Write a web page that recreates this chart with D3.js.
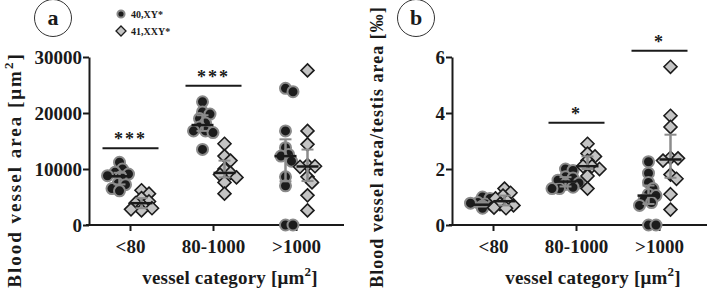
<!DOCTYPE html>
<html>
<head>
<meta charset="utf-8">
<script src="https://cdn.jsdelivr.net/npm/d3@7"></script>
<style>
  body { margin: 0; background: #fff; }
  text { font-family: "Liberation Serif", Tinos, "Times New Roman", Times, serif; font-weight: bold; fill: #1a1a1a; }
</style>
</head>
<body>
<svg width="708" height="293"></svg>
<script>
// categories and groups
var categories = ["<80", "80-1000", ">1000"];
var groups = ["40,XY*", "41,XXY*"];

// panel a: blood vessel area [µm²]
var areaXY = [
  [11200, 10000, 9400, 9100, 8800, 8600, 7400, 7200, 6500, 6100],
  [22000, 20200, 19800, 19000, 18200, 17500, 16800, 16500, 16800, 13500],
  [24400, 23800, 16800, 13800, 12600, 12300, 11400, 8600, 7000, 0, 0]
];
var areaXXY = [
  [6200, 5600, 4800, 4200, 3900, 3400, 3000, 2600, 2800],
  [14500, 12300, 11500, 10000, 9300, 9000, 8500, 7600, 5600],
  [27600, 16800, 14400, 10700, 10400, 10500, 8600, 7600, 5300, 2600]
];

// panel b: blood vessel area / testis area [‰]
var ratioXY = [
  [1.0, 0.95, 0.8, 0.78, 0.75, 0.7, 0.68, 0.65, 0.62, 0.6],
  [2.0, 1.95, 1.72, 1.68, 1.6, 1.5, 1.45, 1.35, 1.3, 1.3],
  [2.26, 1.85, 1.52, 1.3, 1.1, 1.05, 0.9, 0.8, 0.7, 0, 0]
];
var ratioXXY = [
  [1.3, 1.15, 1.05, 0.95, 0.85, 0.75, 0.7, 0.62, 0.6],
  [2.9, 2.55, 2.45, 2.3, 2.1, 2.1, 2.0, 1.75, 1.3],
  [5.65, 3.9, 3.5, 2.4, 2.38, 2.3, 1.8, 1.65, 1.1, 0.55]
];

var ticksA = [0, 10000, 20000, 30000];
var ticksB = [0, 2, 4, 6];
var sigA = ["***", "***", ""];
var sigB = ["", "*", "*"];

var svg = d3.select("svg");

// simple dodge so points of equal height sit side by side
function swarm(vals, y, gap) {
  var placed = [];
  var order = vals.map(function (v, i) { return i; })
    .sort(function (a, b) { return vals[b] - vals[a]; });
  var out = new Array(vals.length);
  order.forEach(function (i) {
    var py = y(vals[i]);
    var cands = [0];
    for (var k = 1; k < 12; k++) { cands.push(k * 1.5, -k * 1.5); }
    var best = cands.find(function (dx) {
      return placed.every(function (p) {
        var ddx = p.x - dx, ddy = p.y - py;
        return ddx * ddx + ddy * ddy >= gap * gap;
      });
    });
    if (best === undefined) best = 0;
    placed.push({ x: best, y: py });
    out[i] = best;
  });
  return out;
}

function panel(opt) {
  var g = svg.append("g");
  var x = d3.scaleBand().domain(categories).range([opt.x0, opt.x0 + 249]);
  var sub = d3.scaleBand().domain(groups).range([-22, 22]);
  var y = d3.scaleLinear().domain([0, opt.max]).range([225, 57]);

  // axes
  g.append("g")
    .attr("transform", "translate(" + opt.x0 + ",0)")
    .call(d3.axisLeft(y).tickValues(opt.ticks).tickFormat(d3.format("d"))
      .tickSize(6).tickPadding(1).tickSizeOuter(0))
    .call(function (a) {
      a.attr("font-family", null);
      a.selectAll("path,line").attr("stroke", "#1a1a1a").attr("stroke-width", 2);
      a.selectAll("text").attr("font-size", 19).attr("fill", "#1a1a1a");
    });
  g.append("g")
    .attr("transform", "translate(0,225)")
    .call(d3.axisBottom(x).tickSize(6).tickPadding(9).tickSizeOuter(0))
    .call(function (a) {
      a.attr("font-family", null);
      a.select("path").attr("d", "M" + (opt.x0 - 3) + ",0H" + (opt.x0 + 255));
      a.selectAll("path,line").attr("stroke", "#1a1a1a").attr("stroke-width", 2);
      a.selectAll("text").attr("font-size", 19).attr("fill", "#1a1a1a");
    });

  // data
  [opt.xy, opt.xxy].forEach(function (series, gi) {
    series.forEach(function (vals, ci) {
      var cx = x(categories[ci]) + x.bandwidth() / 2 + sub(groups[gi]) + sub.bandwidth() / 2;
      var sorted = vals.slice().sort(d3.ascending);
      var q1 = d3.quantile(sorted, 0.25), q3 = d3.quantile(sorted, 0.75), med = d3.median(sorted);
      var off = swarm(vals, y, 7);
      var pts = g.append("g");
      pts.selectAll("path").data(vals).enter().append("path")
        .attr("transform", function (d, i) { return "translate(" + (cx + off[i]) + "," + y(d) + ")"; })
        .attr("d", gi === 0 ? d3.symbol(d3.symbolCircle, 95)() : "M0,-6.5L6.5,0L0,6.5L-6.5,0Z")
        .attr("fill", gi === 0 ? "#1c1c1c" : "#c4c4c4")
        .attr("stroke", gi === 0 ? "#8a8a8a" : "#1c1c1c")
        .attr("stroke-width", gi === 0 ? 2 : 1.6);
      // IQR bar and median
      g.append("line").attr("x1", cx).attr("x2", cx).attr("y1", y(q1)).attr("y2", y(q3))
        .attr("stroke", "#8c8c8c").attr("stroke-width", 2.5);
      [q1, q3].forEach(function (q) {
        g.append("line").attr("x1", cx - 6).attr("x2", cx + 6).attr("y1", y(q)).attr("y2", y(q))
          .attr("stroke", "#8c8c8c").attr("stroke-width", 2);
      });
      g.append("line").attr("x1", cx - 11).attr("x2", cx + 11).attr("y1", y(med)).attr("y2", y(med))
        .attr("stroke", "#1a1a1a").attr("stroke-width", 2.5);
    });
  });

  // significance bars
  opt.sig.forEach(function (s, ci) {
    if (!s) return;
    var top = d3.max(opt.xy[ci].concat(opt.xxy[ci]));
    var yy = y(top) - opt.sigGap[ci];
    var c = x(categories[ci]) + x.bandwidth() / 2;
    g.append("line").attr("x1", c - 28).attr("x2", c + 28).attr("y1", yy).attr("y2", yy)
      .attr("stroke", "#1a1a1a").attr("stroke-width", 2);
    g.append("text").attr("x", c).attr("y", yy - 3).attr("text-anchor", "middle")
      .attr("font-size", 18).attr("letter-spacing", 2).text(s);
  });

  // titles
  var yt = g.append("text")
    .attr("transform", "translate(" + opt.ytx + "," + opt.yty + ") rotate(-90)")
    .attr("text-anchor", "middle").attr("font-size", opt.yfs).attr("letter-spacing", opt.yls);
  opt.ytitle(yt);
  var xt = g.append("text").attr("x", opt.x0 + 141).attr("y", 284)
    .attr("text-anchor", "middle").attr("font-size", 19).attr("letter-spacing", 0.2);
  xt.append("tspan").text("vessel category  [\u03bcm");
  xt.append("tspan").attr("dy", -8).attr("font-size", 13).text("2");
  xt.append("tspan").attr("dy", 8).text("]");

  // panel label
  g.append("circle").attr("cx", opt.x0 - 36).attr("cy", 18).attr("r", 18.5)
    .attr("fill", "none").attr("stroke", "#333").attr("stroke-width", 1);
  g.append("text").attr("x", opt.x0 - 36).attr("y", 25).attr("text-anchor", "middle")
    .attr("font-size", 22).attr("font-weight", "normal").text(opt.label);
}

panel({
  x0: 89, max: 30000, ticks: ticksA, xy: areaXY, xxy: areaXXY, sig: sigA,
  sigGap: [14, 16, 0], label: "a", ytx: 21, yty: 170, yls: 2, yfs: 19,
  ytitle: function (t) {
    t.append("tspan").text("Blood vessel area [\u03bcm");
    t.append("tspan").attr("dy", -8).attr("font-size", 13).text("2");
    t.append("tspan").attr("dy", 8).text("]");
  }
});

panel({
  x0: 452, max: 6, ticks: ticksB, xy: ratioXY, xxy: ratioXXY, sig: sigB,
  sigGap: [0, 21, 16], label: "b", ytx: 383, yty: 147, yls: 1, yfs: 18,
  ytitle: function (t) { t.text("Blood vessel area/testis area [\u2030]"); }
});

// legend
var leg = svg.append("g").attr("transform", "translate(121,14)");
groups.forEach(function (gname, i) {
  var row = leg.append("g").attr("transform", "translate(0," + (i * 17) + ")");
  row.append("path")
    .attr("d", i === 0 ? d3.symbol(d3.symbolCircle, 40)() : "M0,-5L5,0L0,5L-5,0Z")
    .attr("fill", i === 0 ? "#1c1c1c" : "#c4c4c4")
    .attr("stroke", i === 0 ? "#8a8a8a" : "#1c1c1c")
    .attr("stroke-width", i === 0 ? 2 : 1.3);
  row.append("text").attr("x", 10).attr("y", 4).attr("font-size", 10).text(gname);
});
</script>
</body>
</html>
